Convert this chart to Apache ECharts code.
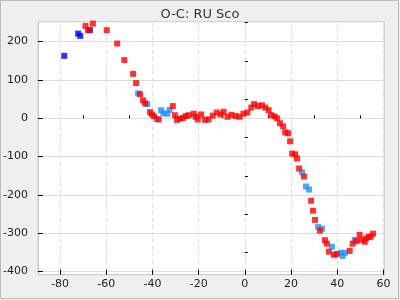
<!DOCTYPE html>
<html>
<head>
<meta charset="utf-8">
<script src="https://cdn.jsdelivr.net/npm/echarts@6/dist/echarts.min.js"></script>
<style>
  html, body { margin: 0; padding: 0; background: #efefef; }
  #chart { width: 400px; height: 300px; }
</style>
</head>
<body>
<div id="chart"></div>
<script>
// tick values
var xTicks = [-80, -60, -40, -20, 0, 20, 40, 60];
var xMinor = [-70, -50, -30, -10, 10, 30, 50];
var yTicks = [-400, -300, -200, -100, 0, 100, 200];
var yMinor = [-350, -250, -150, -50, 50, 150, 250];

// O-C points, by source
var blueData = [[-78.2, 163], [-72.2, 221], [-71.3, 215], [-67.1, 230]];
var dodgerData = [
  [-46.2, 65], [-42.3, 37], [-38.2, -2], [-36.3, 21], [-35.3, 13], [-33.6, 12], [-32.6, 22],
  [24.8, -141], [26.5, -178], [27.8, -186], [31.7, -283], [33.4, -288], [37.7, -335],
  [41.6, -351], [42.4, -359], [43.3, -351], [47.6, -317]
];
var redData = [
  [-69, 241], [-67.9, 230], [-65.8, 247], [-59.8, 230], [-55.3, 195], [-52.2, 152],
  [-48.4, 116], [-47.1, 92], [-45.4, 63], [-44.1, 47], [-43.2, 39], [-41.1, 16],
  [-40.2, 10], [-39.3, 5], [-37.3, -3], [-31.2, 32], [-30.3, 8], [-29.4, -4],
  [-28.1, -1], [-26.8, 1], [-25.6, 6], [-24.3, 8], [-22.1, 12], [-21.3, 4],
  [-20.4, -3], [-18.9, 10], [-17.2, -4], [-15.7, -3], [-13.9, 7], [-12.2, 15],
  [-10.5, 10], [-9.2, 17], [-7.5, 4], [-5.8, 9], [-4, 6], [-2.3, 4], [-0.6, 12],
  [1.1, 15], [2.8, 28], [4, 37], [5.7, 32], [7.4, 34], [8.9, 28], [10.3, 21],
  [11.4, 8], [12.9, 5], [14, 0], [15.2, -13], [16.6, -21], [17.5, -37], [18.8, -39],
  [19.6, -60], [20.5, -92], [21.8, -94], [22.6, -105], [23.5, -131], [25.6, -152],
  [28.7, -215], [29.5, -241], [30.4, -265], [32.5, -293], [34.7, -318], [35.5, -327],
  [36.4, -348], [38.6, -356], [39.8, -354], [45.4, -346], [46.7, -327], [48.4, -320],
  [49.7, -304], [50.6, -317], [51.9, -322], [52.5, -314], [53.6, -309], [54.5, -309],
  [55.5, -301]
];

var chart = echarts.init(document.getElementById('chart'));
var font = 'DejaVu Sans';
var xMin = -89.6, xMax = 60.4, yMin = -408, yMax = 252;

function minorAxis(min, max, vals, pos) {
  return {
    type: 'value', min: min, max: max, position: pos,
    axisLine: { show: false },
    axisTick: { show: true, inside: true, length: 3, customValues: vals, lineStyle: { color: '#000' } },
    axisLabel: { show: false },
    splitLine: { show: false }
  };
}

var option = {
  backgroundColor: '#efefef',
  animation: false,
  title: {
    text: 'O-C: RU Sco',
    left: 'center',
    top: 3,
    textStyle: { fontFamily: font, fontSize: 13, fontWeight: 'normal', color: '#333' }
  },
  grid: {
    left: 36, right: 15.7, top: 21.7, bottom: 25.3,
    show: true, backgroundColor: '#fff', borderColor: '#ccc', borderWidth: 1
  },
  xAxis: [{
    type: 'value', min: xMin, max: xMax, position: 'bottom',
    axisLine: { show: true, onZero: false, lineStyle: { color: '#ccc' } },
    axisTick: { show: true, inside: true, length: 5, customValues: xTicks, lineStyle: { color: '#000' } },
    axisLabel: { customValues: xTicks, margin: 4, fontFamily: font, fontSize: 11, color: '#222' },
    splitLine: { show: true, lineStyle: { color: '#ddd', type: [4, 3] } }
  }, minorAxis(xMin, xMax, xMinor, 'bottom')],
  yAxis: [{
    type: 'value', min: yMin, max: yMax, position: 'left',
    axisLine: { show: true, onZero: false, lineStyle: { color: '#ccc' } },
    axisTick: { show: true, inside: true, length: 5, customValues: yTicks, lineStyle: { color: '#000' } },
    axisLabel: { customValues: yTicks, margin: 10, fontFamily: font, fontSize: 11, color: '#222' },
    splitLine: { show: true, lineStyle: { color: '#ddd', type: 'solid' } }
  }, minorAxis(yMin, yMax, yMinor, 'left')],
  graphic: [{
    type: 'rect', silent: true, z: -1,
    shape: { x: 0.5, y: 0.5, width: 398, height: 298 },
    style: { fill: null, stroke: '#bbb', lineWidth: 1 }
  }],
  series: [
    { name: 'blue', type: 'scatter', symbol: 'rect', symbolSize: 6, data: blueData, itemStyle: { color: '#0000ff' } },
    { name: 'dodger', type: 'scatter', symbol: 'rect', symbolSize: 6, data: dodgerData, itemStyle: { color: '#1e90ff' } },
    { name: 'red', type: 'scatter', symbol: 'rect', symbolSize: 6, data: redData, itemStyle: { color: '#ff0000' } }
  ]
};
chart.setOption(option);
</script>
</body>
</html>
